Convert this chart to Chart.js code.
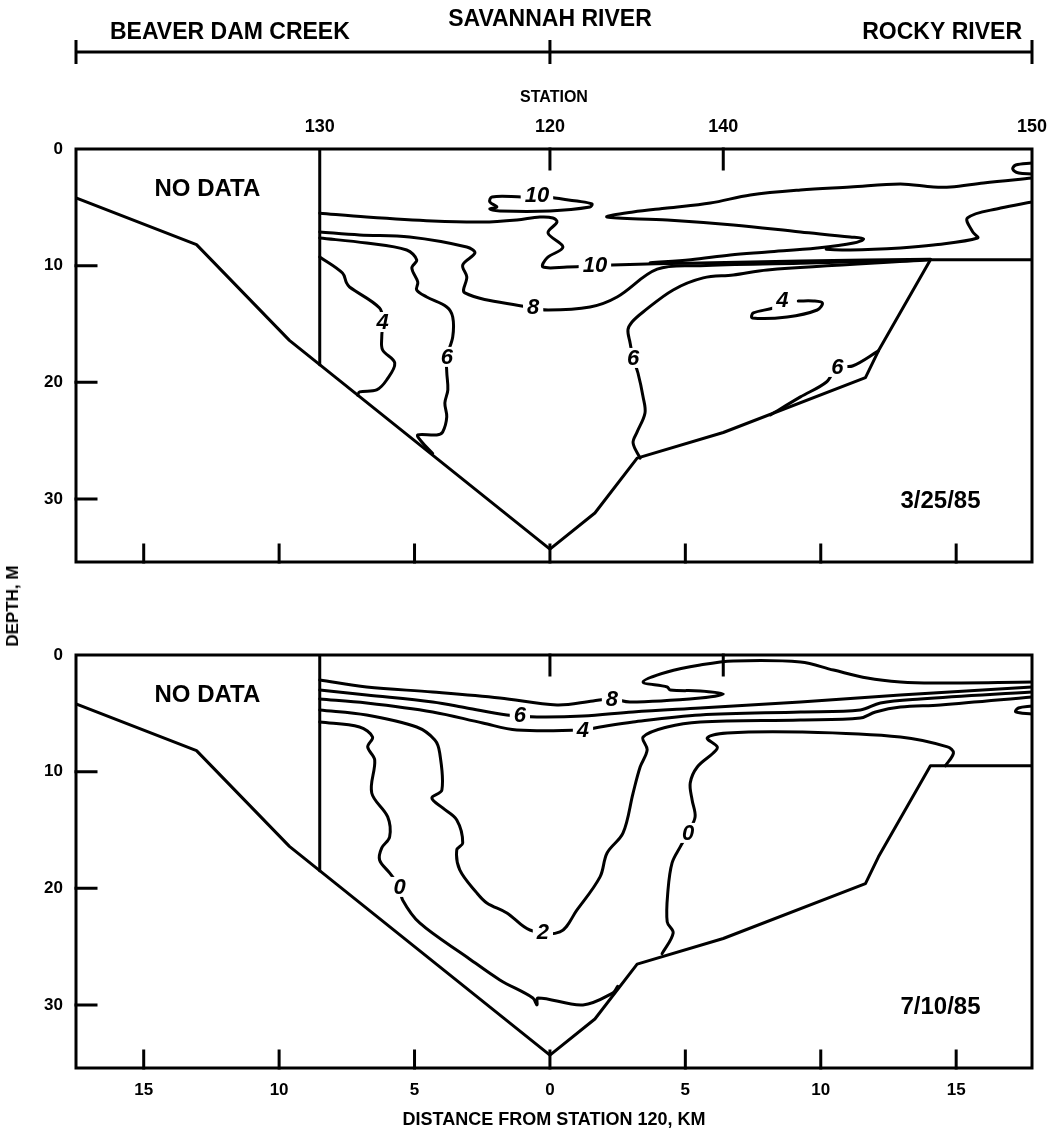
<!DOCTYPE html>
<html>
<head>
<meta charset="utf-8">
<script src="https://cdn.jsdelivr.net/npm/chart.js@4.4.0/dist/chart.umd.min.js"></script>
<style>
  html, body { margin: 0; padding: 0; background: #fff; }
  #wrap { position: relative; width: 1050px; height: 1141px; overflow: hidden; }
  .panel { position: absolute; left: 0; width: 1050px; }
  #topPanel { top: 0; height: 600px; }
  #botPanel { top: 600px; height: 541px; }
  #depthTitle {
    position: absolute; left: 13px; top: 606px;
    transform: translate(-50%, -50%) rotate(-90deg);
    font: bold 17px "Liberation Sans", Arial, sans-serif; color: #000; white-space: nowrap;
  }
</style>
</head>
<body>
<div id="wrap">
  <div class="panel" id="topPanel"><canvas id="marChart"></canvas></div>
  <div class="panel" id="botPanel"><canvas id="julChart"></canvas></div>
  <div id="depthTitle">DEPTH, M</div>
</div>
<script>
// ---- axes ----
const distanceRange = [-17.5, 17.8];          // km from station 120 (negative = Beaver Dam Creek arm)
const distanceTicks = [-15, -10, -5, 0, 5, 10, 15];
const depthRange = [0, 35.4];                  // m
const depthTicks = [0, 10, 20, 30];
const stationKm = [-8.5, 0, 6.4, 17.8];
const stationNames = ['130', '120', '140', '150'];
const reachNames = ['BEAVER DAM CREEK', 'SAVANNAH RIVER', 'ROCKY RIVER'];

// ---- reservoir bottom profile [km, depth m] ----
const bedProfile = [[-17.5,4.2],[-13.05,8.2],[-9.62,16.4],[0,34.3],[1.66,31.2],[3.22,26.5],[6.4,24.3],
  [11.65,19.6],[12.13,17.3],[14.05,9.5],[17.8,9.5]];
const noDataEdge = [[-8.5,0],[-8.5,18.5]];

// ---- 3/25/85 isopleths (mg/L) ----
const mar10Upper = [[-8.5,5.5],[-6.77,5.83],[-4.33,6.17],[-2.48,6.26],[-1.22,6.08],[-0.37,5.83],[0.11,5.91],
  [0.26,6.26],[-0.07,7.2],[0.48,8.4],[-0.11,9.34],[-0.26,10.11],[0.63,10.11],[2.29,9.94],[5.55,9.77],[9.25,9.6],[14.05,9.45]];
const mar10Loop = [[-1.04,4.11],[-2.14,4.11],[-2.22,4.54],[-1.96,4.97],[-2.22,5.14],[-1.85,5.31],[0,5.31],
  [1.48,4.97],[1.55,4.71],[1.0,4.46],[0.18,4.2],[-0.48,3.94],[-1.04,4.11]];
const marWedge = [[17.8,2.49],[16.01,2.91],[14.79,3.26],[14.16,3.26],[12.94,3.0],[11.09,3.26],[9.25,3.51],
  [7.4,3.94],[5.92,4.63],[4.33,5.06],[3.07,5.4],[2.11,5.83],[4.33,6.08],[6.77,6.51],[9.25,7.11],[11.09,7.54],
  [11.58,7.71],[11.21,8.06],[9.87,8.48],[8.03,8.83],[6.66,9.08],[5.2,9.5],[3.7,9.75]];
const marCorner = [[17.8,1.2],[17.2,1.37],[17.09,1.71],[17.31,2.06],[17.8,2.14]];
const marRightEdge = [[17.8,4.54],[16.64,5.06],[15.42,5.91],[15.61,7.11],[15.79,7.63],[14.16,8.23],[12.94,8.48],
  [11.09,8.66],[10.2,8.6]];
const mar8 = [[-8.5,7.11],[-7.03,7.37],[-5.18,7.54],[-3.07,8.4],[-2.77,8.91],[-3.22,9.94],[-3.07,10.97],
  [-3.14,12.34],[-0.85,13.54],[-0.07,13.8],[1.48,13.54],[2.48,12.68],[3.96,10.3],[5.55,10.0],[9.25,9.8],[14.05,9.5]];
const mar6Left = [[-8.5,7.63],[-6.77,8.06],[-5.29,8.66],[-4.92,9.51],[-5.1,10.2],[-4.88,11.4],[-4.92,12.08],
  [-4.55,12.68],[-3.81,13.54],[-3.59,14.4],[-3.59,16.11],[-3.81,17.82],[-3.81,19.11],[-3.77,20.65],[-3.88,21.77],
  [-3.81,22.97],[-3.96,24.25],[-4.18,24.51],[-4.88,24.51],[-4.73,25.11],[-4.33,26.1]];
const mar4Left = [[-8.5,9.25],[-7.66,10.63],[-7.51,11.48],[-7.4,11.83],[-6.29,13.63],[-6.18,14.83],[-6.21,16.11],
  [-6.18,17.22],[-5.73,18.34],[-6.03,19.8],[-6.4,20.65],[-7.03,20.82],[-7.1,21.1]];
const mar6Right = [[3.33,26.5],[3.07,25.19],[3.22,24.25],[3.51,22.62],[3.44,21.25],[3.25,19.2],[3.07,17.91],
  [2.96,16.62],[2.88,15.51],[3.03,14.83],[3.44,13.97],[4.55,12.08],[5.66,11.05],[6.77,10.8],[8.03,10.37],[14.05,9.5]];
const mar6Bed = [[8.14,22.8],[9.25,21.25],[10.21,19.97],[10.61,18.68],[11.17,18.6],[12.13,17.3]];
const mar4Loop = [[9.17,13.03],[9.73,13.03],[10.06,13.2],[9.87,13.8],[8.76,14.4],[7.47,14.48],[7.51,14.05],
  [8.25,13.63],[8.58,13.2]];
const marLabels = [
  {text:'10', km:-0.48, m:3.94}, {text:'10', km:1.66, m:9.94}, {text:'8', km:-0.62, m:13.51},
  {text:'4', km:-6.18, m:14.83}, {text:'6', km:-3.81, m:17.82}, {text:'6', km:3.07, m:17.91},
  {text:'4', km:8.58, m:12.94}, {text:'6', km:10.61, m:18.68}
];

// ---- 7/10/85 isopleths (mg/L) ----
const jul8 = [[-8.5,2.14],[-6.77,2.74],[-4.33,3.17],[-1.85,3.68],[0.26,4.28],[1.59,3.94],[2.29,3.77],[2.96,4.03],
  [5.55,3.68],[6.4,3.34],[5.55,3.08],[4.44,3.0],[4.33,2.74],[3.44,2.31],[4.33,1.46],[5.55,0.86],[6.77,0.51],
  [9.25,0.6],[10.47,1.29],[11.72,1.97],[12.94,2.31],[14.16,2.4],[17.8,2.31]];
const jul6 = [[-8.5,3.0],[-6.77,3.43],[-4.33,4.03],[-3.07,4.54],[-1.59,5.14],[-0.48,5.31],[1.22,5.23],[3.07,4.88],
  [5.55,4.54],[9.25,4.03],[12.94,3.43],[17.8,2.74]];
const jul4 = [[-8.5,3.77],[-6.77,4.11],[-4.33,4.88],[-2.48,5.83],[-1.22,6.43],[1.22,6.43],[1.85,6.17],[3.07,5.74],
  [5.55,5.14],[9.25,4.88],[11.46,4.71],[12.2,4.11],[13.68,3.77],[17.8,3.17]];
const jul2 = [[-8.5,4.71],[-6.77,5.14],[-4.92,6.17],[-4.25,7.28],[-4.07,8.4],[-3.99,11.57],[-4.36,12.25],[-3.96,13.11],
  [-3.44,14.14],[-3.22,16.11],[-3.44,16.71],[-3.33,18.42],[-2.7,20.39],[-2.33,21.25],[-1.59,22.11],[-0.74,23.57],
  [0.37,23.74],[1.0,21.85],[1.85,19.02],[2.11,16.97],[2.7,15.25],[3.07,11.83],[3.33,9.6],[3.59,8.14],[3.44,7.03],
  [4.33,6.17],[5.55,5.74],[9.25,5.57],[11.46,5.4],[12.02,4.88],[12.94,4.46],[14.42,4.28],[17.8,3.6]];
const jul0Left = [[-8.5,5.74],[-7.03,6.17],[-6.55,7.03],[-6.73,7.88],[-6.47,9.0],[-6.58,11.83],[-5.99,13.88],
  [-5.92,15.6],[-6.21,16.54],[-6.29,17.57],[-5.92,18.68],[-5.55,19.88],[-5.44,21.0],[-4.81,22.97],[-3.07,25.88],
  [-1.85,27.85],[-0.63,29.39],[-0.48,29.99],[-0.44,29.39],[1.22,29.99],[2.33,28.96],[2.5,28.4]];
const jul0Right = [[4.14,25.6],[4.55,23.82],[4.33,22.88],[4.36,20.14],[4.51,17.82],[4.81,16.45],[5.1,15.25],
  [5.36,13.88],[5.25,12.43],[5.18,10.97],[5.44,9.6],[6.03,8.4],[6.18,7.88],[5.81,7.11],[6.55,6.68],[9.25,6.6],
  [12.94,7.03],[14.68,7.88],[14.9,8.4],[14.6,9.5]];
const julCorner = [[17.8,4.37],[17.3,4.54],[17.2,4.88],[17.8,5.06]];
const julLabels = [
  {text:'8', km:2.29, m:3.77}, {text:'6', km:-1.11, m:5.14}, {text:'4', km:1.22, m:6.43},
  {text:'0', km:-5.55, m:19.88}, {text:'2', km:-0.26, m:23.74}, {text:'0', km:5.1, m:15.25}
];

const panelDates = ['3/25/85', '7/10/85'];
const noDataAt = [-12.65, 3.5];
const dateAt = [14.42, 30.2];

// ---- drawing ----
const ink = '#000';
const FAMILY = '"Liberation Sans", Arial, Helvetica, sans-serif';

function line(points, smooth) {
  return {
    data: points.map(p => ({x: p[0], y: p[1]})),
    showLine: true, pointRadius: 0, borderColor: ink, borderWidth: 3,
    tension: smooth ? 0.35 : 0, fill: false, borderJoinStyle: 'round', borderCapStyle: 'round'
  };
}

function decorPlugin(labels, dateText) {
  return {
    id: 'decor',
    afterDatasetsDraw(chart) {
      const {ctx, chartArea: a, scales} = chart;
      const x = scales.x, y = scales.y;
      ctx.save();
      // isopleth labels, knocked out of their lines
      ctx.font = 'italic bold 22px ' + FAMILY;
      ctx.textAlign = 'center'; ctx.textBaseline = 'middle';
      labels.forEach(l => {
        const px = x.getPixelForValue(l.km), py = y.getPixelForValue(l.m);
        const w = ctx.measureText(l.text).width + 8;
        ctx.fillStyle = '#fff'; ctx.fillRect(px - w / 2, py - 10, w, 20);
        ctx.fillStyle = ink; ctx.fillText(l.text, px, py + 1);
      });
      // notes
      ctx.font = 'bold 24px ' + FAMILY;
      ctx.fillText('NO DATA', x.getPixelForValue(noDataAt[0]), y.getPixelForValue(noDataAt[1]));
      ctx.fillText(dateText, x.getPixelForValue(dateAt[0]), y.getPixelForValue(dateAt[1]));
      // frame and inward ticks
      ctx.strokeStyle = ink; ctx.lineWidth = 3; ctx.lineCap = 'square';
      ctx.strokeRect(a.left, a.top, a.right - a.left, a.bottom - a.top);
      ctx.beginPath();
      distanceTicks.forEach(v => {
        const px = x.getPixelForValue(v);
        ctx.moveTo(px, a.bottom); ctx.lineTo(px, a.bottom - 17);
      });
      depthTicks.slice(1).forEach(v => {
        const py = y.getPixelForValue(v);
        ctx.moveTo(a.left, py); ctx.lineTo(a.left + 20, py);
      });
      [stationKm[1], stationKm[2]].forEach(v => {
        const px = x.getPixelForValue(v);
        ctx.moveTo(px, a.top); ctx.lineTo(px, a.top + 20);
      });
      ctx.stroke();
      ctx.restore();
    }
  };
}

const headerPlugin = {
  id: 'header',
  afterDraw(chart) {
    const {ctx, chartArea: a, scales: {x}} = chart;
    const x0 = x.getPixelForValue(0);
    const hy = 52;
    ctx.save();
    ctx.strokeStyle = ink; ctx.lineWidth = 3;
    ctx.beginPath();
    ctx.moveTo(a.left, hy); ctx.lineTo(a.right, hy);
    [a.left, x0, a.right].forEach(px => { ctx.moveTo(px, hy - 12); ctx.lineTo(px, hy + 12); });
    ctx.stroke();
    ctx.fillStyle = ink; ctx.textBaseline = 'middle';
    ctx.font = 'bold 23px ' + FAMILY;
    ctx.textAlign = 'left';  ctx.fillText(reachNames[0], a.left + 34, 33);
    ctx.textAlign = 'center'; ctx.fillText(reachNames[1], x0, 20);
    ctx.textAlign = 'right'; ctx.fillText(reachNames[2], a.right - 10, 33);
    ctx.restore();
  }
};

function baseScales(bottomHeight, showDistance) {
  return {
    x: {
      type: 'linear', position: 'bottom', min: distanceRange[0], max: distanceRange[1],
      grid: {display: false, drawTicks: false}, border: {display: false},
      afterBuildTicks: s => { s.ticks = distanceTicks.map(v => ({value: v})); },
      afterFit: s => { s.height = bottomHeight; s.paddingLeft = 0; s.paddingRight = 0; },
      ticks: {display: showDistance, autoSkip: false, maxRotation: 0, padding: 12, color: ink,
        font: {family: FAMILY, size: 17, weight: 'bold'}, callback: v => String(Math.abs(v))},
      title: {display: showDistance, text: 'DISTANCE FROM STATION 120, KM', color: ink,
        font: {family: FAMILY, size: 18, weight: 'bold'}, padding: {top: 10, bottom: 10}}
    },
    y: {
      type: 'linear', position: 'left', reverse: true, min: depthRange[0], max: depthRange[1],
      grid: {display: false, drawTicks: false}, border: {display: false},
      afterBuildTicks: s => { s.ticks = depthTicks.map(v => ({value: v})); },
      afterFit: s => { s.width = 76; s.paddingTop = 0; s.paddingBottom = 0; },
      ticks: {autoSkip: false, padding: 13, color: ink, font: {family: FAMILY, size: 17, weight: 'bold'}}
    }
  };
}

const common = {
  responsive: true, maintainAspectRatio: false, animation: false, devicePixelRatio: 1,
  plugins: {legend: {display: false}, tooltip: {enabled: false}}
};

// upper panel: 3/25/85
const marScales = baseScales(38, false);
marScales.st = {
  type: 'linear', position: 'top', min: distanceRange[0], max: distanceRange[1],
  grid: {display: false, drawTicks: false}, border: {display: false},
  afterBuildTicks: s => { s.ticks = stationKm.map(v => ({value: v})); },
  afterFit: s => { s.height = 149; s.paddingLeft = 0; s.paddingRight = 0; },
  ticks: {autoSkip: false, maxRotation: 0, padding: 11, color: ink,
    font: {family: FAMILY, size: 18, weight: 'bold'},
    callback: v => stationNames[stationKm.indexOf(v)]},
  title: {display: true, text: 'STATION', color: ink,
    font: {family: FAMILY, size: 16, weight: 'bold'}, padding: {top: 88, bottom: 0}}
};

new Chart(document.getElementById('marChart'), {
  type: 'scatter',
  data: {datasets: [
    line(bedProfile, false), line(noDataEdge, false),
    line(mar10Upper, true), line(mar10Loop, true), line(marWedge, true), line(marCorner, true),
    line(marRightEdge, true), line(mar8, true), line(mar6Left, true), line(mar4Left, true),
    line(mar6Right, true), line(mar6Bed, true), line(mar4Loop, true)
  ]},
  options: Object.assign({}, common, {
    layout: {padding: {left: 0, right: 18, top: 0, bottom: 0}},
    scales: marScales
  }),
  plugins: [decorPlugin(marLabels, panelDates[0]), headerPlugin]
});

// lower panel: 7/10/85
new Chart(document.getElementById('julChart'), {
  type: 'scatter',
  data: {datasets: [
    line(bedProfile, false), line(noDataEdge, false),
    line(jul8, true), line(jul6, true), line(jul4, true), line(jul2, true),
    line(jul0Left, true), line(jul0Right, true), line(julCorner, true)
  ]},
  options: Object.assign({}, common, {
    layout: {padding: {left: 0, right: 18, top: 55, bottom: 0}},
    scales: baseScales(73, true)
  }),
  plugins: [decorPlugin(julLabels, panelDates[1])]
});
</script>
</body>
</html>
